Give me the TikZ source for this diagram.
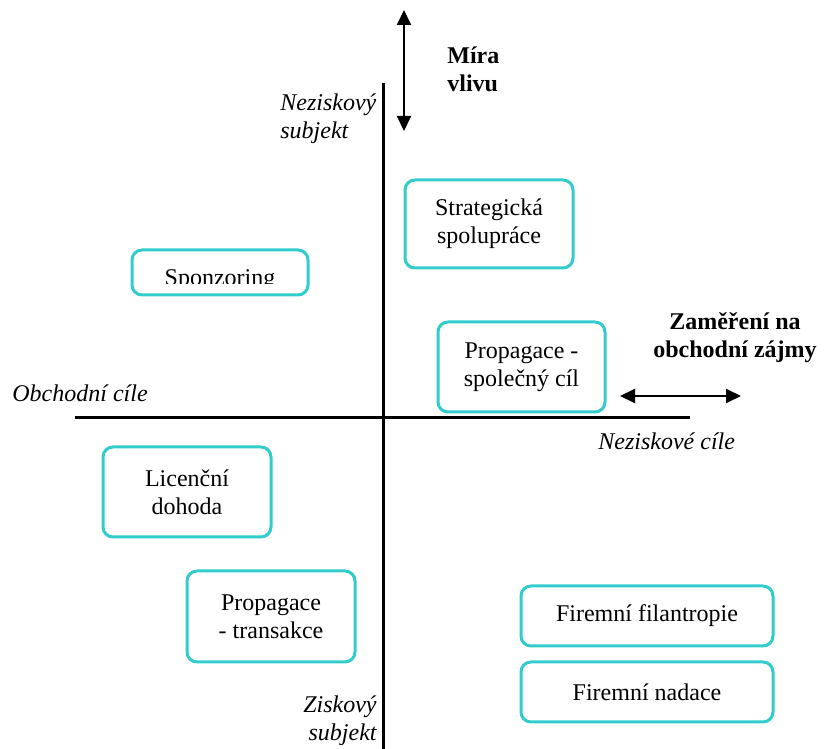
\documentclass[tikz,border=0pt]{standalone}
\usepackage{fontspec}
\setmainfont{Liberation Serif}
\usetikzlibrary{arrows.meta}
\definecolor{boxc}{RGB}{51,204,204}
\newcommand{\txtsize}{\fontsize{12}{14}\selectfont}
\tikzset{
  box/.style={draw=boxc, line width=1.5pt, rounded corners=5pt, align=center, inner sep=0pt, font=\txtsize},
  axis/.style={line width=1.5pt},
  dirarrow/.style={line width=1pt, {Triangle[width=7pt,length=7.5pt]}-{Triangle[width=7pt,length=7.5pt]}},
  lbl/.style={font=\txtsize\itshape, inner sep=0pt},
  head/.style={font=\txtsize\bfseries, inner sep=0pt}
}
\begin{document}
\begin{tikzpicture}[x=0.5pt, y=-0.5pt]
  \useasboundingbox (0,0) rectangle (827,749);

  % axes
  \coordinate (vtop) at (383,83);
  \coordinate (vbot) at (383,749);
  \coordinate (hleft) at (75,418);
  \coordinate (hright) at (690,418);
  \draw[axis] (vtop) -- (vbot);
  \draw[axis] (hleft) -- (hright);

  % direction arrows
  \coordinate (vup) at (404,10);
  \coordinate (vdown) at (404,131);
  \coordinate (hl) at (620,396);
  \coordinate (hr) at (741,396);
  \draw[dirarrow] (vup) -- (vdown);
  \draw[dirarrow] (hl) -- (hr);

  \node[head, anchor=north west, align=left] (mira) at (447,46) {Míra\\vlivu};
  \node[head, anchor=north, align=center] (zamer) at (735,312) {Zaměření na\\obchodní zájmy};

  % axis labels
  \node[lbl, anchor=north west, align=left] (nezsub) at (280,93) {Neziskový\\subjekt};
  \node[lbl, anchor=north west] (obch) at (12,384) {Obchodní cíle};
  \node[lbl, anchor=north west] (nezcil) at (598,432) {Neziskové cíle};
  \node[lbl, anchor=north east, align=right] (zissub) at (377,695) {Ziskový\\subjekt};

  % boxes
  \node[box, minimum width=84pt, minimum height=44pt] (strat) at (489,224) {Strategická\\spolupráce};
  \node[box, minimum width=88pt, minimum height=22.5pt] (sponz) at (220,272.5) {};
  \begin{scope}
    \clip (132,250) rectangle (308,284);
    \node[anchor=base, inner sep=0pt, font=\txtsize] (sponzt) at (220,286) {Sponzoring};
  \end{scope}
  \node[box, minimum width=83.5pt, minimum height=45pt] (propsp) at (521.5,367) {Propagace -\\společný cíl};
  \node[box, minimum width=84pt, minimum height=45pt] (lic) at (187,492) {Licenční\\dohoda};
  \node[box, minimum width=84pt, minimum height=45.5pt] (proptr) at (271,616.5) {Propagace\\- transakce};
  \node[box, minimum width=126pt, minimum height=30pt] (filan) at (647,616) {Firemní filantropie};
  \node[box, minimum width=126pt, minimum height=30pt] (nadace) at (647,692) {Firemní nadace};
\end{tikzpicture}
\end{document}
